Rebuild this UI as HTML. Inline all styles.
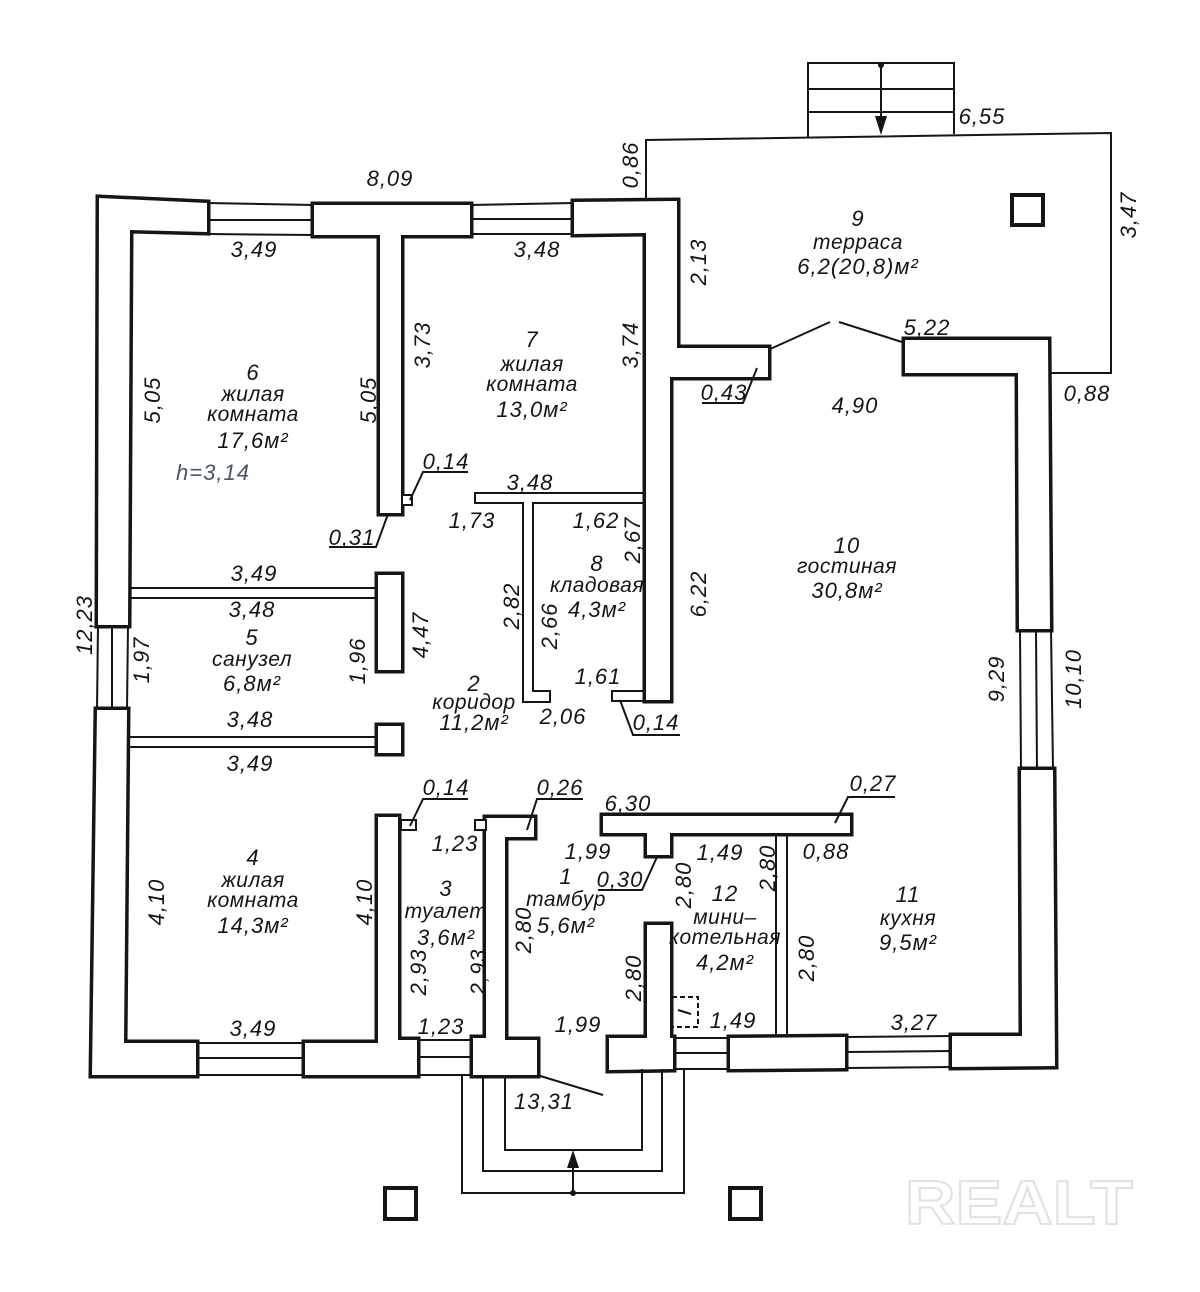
<!DOCTYPE html>
<html><head><meta charset="utf-8"><style>
html,body{margin:0;padding:0;background:#fff;}
svg{display:block;}
text{font-family:"Liberation Sans",sans-serif;font-style:italic;font-size:22px;fill:#151515;text-anchor:middle;letter-spacing:1px;}
.r{font-size:21px;letter-spacing:0.5px;}
.t{stroke:#151515;stroke-width:2;fill:#fff;}
.l{stroke:#151515;stroke-width:2;fill:none;}
.k{stroke:#151515;stroke-width:4;fill:#fff;}
</style></head><body>
<svg width="1200" height="1292" viewBox="0 0 1200 1292" xmlns="http://www.w3.org/2000/svg">
<defs>
<g id="w">
<polygon points="99,198 207,203 207,232 130,230 128,625 98,625"/>
<polygon points="314,205 470,205 470,235 401,235 401,513 380,513 380,235 314,235"/>
<polygon points="574,202 677,201 677,348 768,348 768,377 670,377 670,700 646,700 646,233 574,234"/>
<polygon points="905,340 1048,340 1050,629 1019,629 1018,373 905,373"/>
<polygon points="1021,770 1053,770 1055,1066 952,1067 952,1036 1022,1036"/>
<polygon points="730,1038 845,1037 845,1068 730,1069"/>
<polygon points="609,1038 647,1038 647,925 670,925 670,1038 673,1038 673,1069 609,1070"/>
<polygon points="473,1038 486,1038 486,818 534,818 534,837 505,837 505,1040 537,1040 537,1075 473,1075"/>
<polygon points="305,1043 378,1043 378,817 398,817 398,1040 417,1040 417,1075 305,1075"/>
<polygon points="97,710 127,710 124,1043 196,1043 196,1075 92,1075"/>
<polygon points="378,575 401,575 401,670 378,670"/>
<polygon points="378,726 401,726 401,753 378,753"/>
<polygon points="603,816 850,816 850,833 670,833 670,855 647,855 647,833 603,833"/>
</g>
</defs>

<!-- terrace -->
<polyline class="l" points="646,199 646,140 1111,133 1111,373 1050,373" stroke-width="2.5"/>
<!-- stairs -->
<polyline class="l" points="808,137 808,63 954,63 954,134"/>
<line class="l" x1="808" y1="89" x2="954" y2="89"/>
<line class="l" x1="808" y1="112" x2="954" y2="112"/>
<line class="l" x1="881" y1="65" x2="881" y2="120"/>
<circle cx="881" cy="65" r="3" fill="#151515"/>
<polygon points="875,116 887,116 881,135" fill="#151515"/>
<rect class="k" x="1012" y="195" width="31" height="30"/>
<!-- terrace door -->
<line class="l" x1="768" y1="350" x2="830" y2="322"/>
<line class="l" x1="839" y1="322" x2="905" y2="343"/>

<!-- windows -->
<g class="l">
<line x1="207" y1="203" x2="314" y2="205"/><line x1="207" y1="220" x2="314" y2="220"/><line x1="207" y1="234" x2="314" y2="235"/>
<line x1="470" y1="205" x2="574" y2="203"/><line x1="470" y1="219" x2="574" y2="219"/><line x1="470" y1="234" x2="574" y2="234"/>
<line x1="98" y1="625" x2="97" y2="710"/><line x1="112" y1="625" x2="112" y2="710"/><line x1="128" y1="625" x2="127" y2="710"/>
<line x1="1020" y1="629" x2="1021" y2="770"/><line x1="1036" y1="629" x2="1037" y2="770"/><line x1="1051" y1="629" x2="1053" y2="770"/>
<line x1="196" y1="1043" x2="305" y2="1043"/><line x1="196" y1="1058" x2="305" y2="1058"/><line x1="196" y1="1075" x2="305" y2="1075"/>
<line x1="417" y1="1040" x2="473" y2="1040"/><line x1="417" y1="1057" x2="473" y2="1057"/><line x1="417" y1="1075" x2="473" y2="1075"/>
<line x1="673" y1="1038" x2="730" y2="1038"/><line x1="673" y1="1053" x2="730" y2="1053"/><line x1="673" y1="1069" x2="730" y2="1069"/>
<line x1="845" y1="1037" x2="952" y2="1036"/><line x1="845" y1="1052" x2="952" y2="1051"/><line x1="845" y1="1068" x2="952" y2="1067"/>
</g>

<!-- thin walls -->
<rect class="t" x="127" y="588" width="253" height="10"/>
<rect class="t" x="127" y="737" width="253" height="10"/>
<polygon class="t" points="475,493 648,493 648,503 533,503 533,691 550,691 550,702 523,702 523,503 475,503"/>
<rect class="t" x="612" y="691" width="36" height="10"/>
<rect class="t" x="776" y="833" width="11" height="205"/>

<!-- thick walls -->
<use href="#w" fill="#fff" stroke="#151515" stroke-width="7" stroke-linejoin="miter"/>
<use href="#w" fill="#fff" stroke="none"/>

<!-- small squares -->
<rect class="t" x="402" y="495" width="10" height="10"/>
<rect class="t" x="401" y="820" width="15" height="10"/>
<rect class="t" x="475" y="820" width="11" height="10"/>
<!-- boiler -->
<rect x="672" y="997" width="26" height="30" fill="none" stroke="#151515" stroke-width="2" stroke-dasharray="5,3"/>
<line class="l" x1="678" y1="1010" x2="691" y2="1014"/>

<!-- porch -->
<g class="l">
<polyline points="462,1075 462,1193 684,1193 684,1069"/>
<polyline points="483,1075 483,1171 662,1171 662,1069"/>
<polyline points="505,1075 505,1150 642,1150 642,1069"/>
<line x1="573" y1="1193" x2="573" y2="1165"/>
<line x1="537" y1="1075" x2="603" y2="1095"/>
</g>
<polygon points="567,1168 579,1168 573,1150" fill="#151515"/>
<circle cx="573" cy="1193" r="3" fill="#151515"/>
<rect class="k" x="385" y="1188" width="31" height="31"/>
<rect class="k" x="730" y="1188" width="31" height="31"/>

<!-- leaders -->
<g class="l" stroke-width="1.6">
<polyline points="410,500 423,472 468,472"/>
<polyline points="388,514 376,547 329,547"/>
<polyline points="757,368 743,403 702,403"/>
<polyline points="620,700 633,735 680,735"/>
<polyline points="410,826 423,799 468,799"/>
<polyline points="527,830 537,799 583,799"/>
<polyline points="835,823 848,797 895,797"/>
<polyline points="657,857 642,890 598,890"/>
</g>

<!-- horizontal dims -->
<text x="390" y="186">8,09</text>
<text x="982" y="124">6,55</text>
<text x="927" y="335">5,22</text>
<text x="724" y="400">0,43</text>
<text x="855" y="413">4,90</text>
<text x="1087" y="401">0,88</text>
<text x="254" y="257">3,49</text>
<text x="537" y="257">3,48</text>
<text x="446" y="469">0,14</text>
<text x="352" y="545">0,31</text>
<text x="530" y="490">3,48</text>
<text x="472" y="528">1,73</text>
<text x="596" y="528">1,62</text>
<text x="254" y="581">3,49</text>
<text x="252" y="617">3,48</text>
<text x="598" y="684">1,61</text>
<text x="563" y="724">2,06</text>
<text x="656" y="730">0,14</text>
<text x="250" y="727">3,48</text>
<text x="250" y="771">3,49</text>
<text x="446" y="795">0,14</text>
<text x="560" y="795">0,26</text>
<text x="628" y="811">6,30</text>
<text x="873" y="791">0,27</text>
<text x="455" y="851">1,23</text>
<text x="588" y="859">1,99</text>
<text x="720" y="860">1,49</text>
<text x="826" y="859">0,88</text>
<text x="620" y="887">0,30</text>
<text x="253" y="1036">3,49</text>
<text x="441" y="1034">1,23</text>
<text x="578" y="1032">1,99</text>
<text x="733" y="1028">1,49</text>
<text x="914" y="1030">3,27</text>
<text x="544" y="1109">13,31</text>

<!-- rotated dims -->
<text transform="translate(630,165) rotate(-90)" y="8">0,86</text>
<text transform="translate(1128,215) rotate(-90)" y="8">3,47</text>
<text transform="translate(698,262) rotate(-90)" y="8">2,13</text>
<text transform="translate(422,345) rotate(-90)" y="8">3,73</text>
<text transform="translate(630,345) rotate(-90)" y="8">3,74</text>
<text transform="translate(152,400) rotate(-90)" y="8">5,05</text>
<text transform="translate(368,400) rotate(-90)" y="8">5,05</text>
<text transform="translate(632,540) rotate(-90)" y="8">2,67</text>
<text transform="translate(511,606) rotate(-90)" y="8">2,82</text>
<text transform="translate(549,626) rotate(-90)" y="8">2,66</text>
<text transform="translate(698,594) rotate(-90)" y="8">6,22</text>
<text transform="translate(420,635) rotate(-90)" y="8">4,47</text>
<text transform="translate(357,661) rotate(-90)" y="8">1,96</text>
<text transform="translate(141,660) rotate(-90)" y="8">1,97</text>
<text transform="translate(84,625) rotate(-90)" y="8">12,23</text>
<text transform="translate(996,679) rotate(-90)" y="8">9,29</text>
<text transform="translate(1073,679) rotate(-90)" y="8">10,10</text>
<text transform="translate(156,902) rotate(-90)" y="8">4,10</text>
<text transform="translate(364,902) rotate(-90)" y="8">4,10</text>
<text transform="translate(523,930) rotate(-90)" y="8">2,80</text>
<text transform="translate(683,885) rotate(-90)" y="8">2,80</text>
<text transform="translate(767,868) rotate(-90)" y="8">2,80</text>
<text transform="translate(806,958) rotate(-90)" y="8">2,80</text>
<text transform="translate(418,972) rotate(-90)" y="8">2,93</text>
<text transform="translate(478,972) rotate(-90)" y="8">2,93</text>
<text transform="translate(633,978) rotate(-90)" y="8">2,80</text>

<!-- room labels -->
<text x="858" y="226">9</text>
<text class="r" x="858" y="249">терраса</text>
<text x="858" y="274">6,2(20,8)м²</text>

<text x="253" y="380">6</text>
<text class="r" x="253" y="401">жилая</text>
<text class="r" x="253" y="421">комната</text>
<text x="253" y="448">17,6м²</text>

<text x="532" y="347">7</text>
<text class="r" x="532" y="371">жилая</text>
<text class="r" x="532" y="391">комната</text>
<text x="532" y="417">13,0м²</text>

<text x="213" y="480" style="fill:#4a5566">h=3,14</text>

<text x="597" y="571">8</text>
<text class="r" x="597" y="592">кладовая</text>
<text x="597" y="617">4,3м²</text>

<text x="847" y="553">10</text>
<text class="r" x="847" y="573">гостиная</text>
<text x="847" y="598">30,8м²</text>

<text x="252" y="645">5</text>
<text class="r" x="252" y="666">санузел</text>
<text x="252" y="691">6,8м²</text>

<text x="474" y="691">2</text>
<text class="r" x="474" y="709">коридор</text>
<text x="474" y="730">11,2м²</text>

<text x="253" y="865">4</text>
<text class="r" x="253" y="887">жилая</text>
<text class="r" x="253" y="907">комната</text>
<text x="253" y="933">14,3м²</text>

<text x="446" y="896">3</text>
<text class="r" x="446" y="918">туалет</text>
<text x="446" y="945">3,6м²</text>

<text x="566" y="884">1</text>
<text class="r" x="566" y="906">тамбур</text>
<text x="566" y="933">5,6м²</text>

<text x="725" y="901">12</text>
<text class="r" x="725" y="924">мини–</text>
<text class="r" x="725" y="944">котельная</text>
<text x="725" y="970">4,2м²</text>

<text x="908" y="902">11</text>
<text class="r" x="908" y="925">кухня</text>
<text x="908" y="950">9,5м²</text>

<!-- watermark -->
<text x="905" y="1224" textLength="228" lengthAdjust="spacingAndGlyphs" style="font-style:normal;font-weight:bold;font-size:62px;text-anchor:start;fill:#fff;stroke:#e2e2e2;stroke-width:2;letter-spacing:0">REALT</text>
</svg>
</body></html>
